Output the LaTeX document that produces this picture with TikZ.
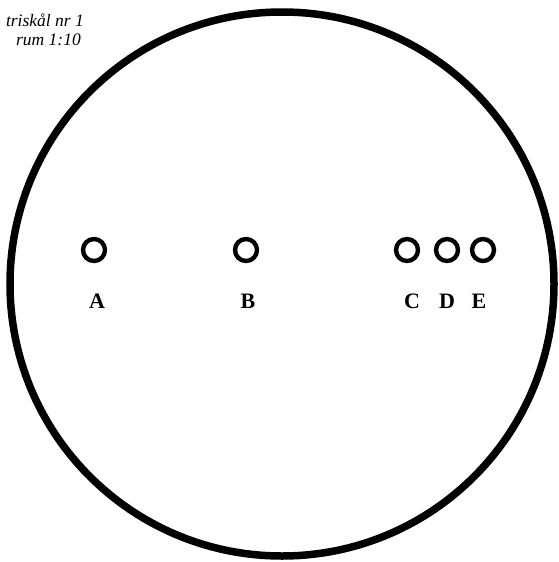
\documentclass[tikz,border=0pt]{standalone}
\usepackage{fontspec}
\setmainfont{Liberation Serif}
\begin{document}
\begin{tikzpicture}[x=1pt,y=-1pt,
  hole/.style={circle,draw=black,line width=4.4pt,minimum size=20pt,inner sep=0pt},
  lbl/.style={font=\fontsize{22}{22}\selectfont\bfseries,inner sep=0pt},
  note/.style={font=\fontsize{17.5}{17.5}\selectfont\itshape,inner sep=0pt,anchor=east}]
\useasboundingbox (0,0) rectangle (558,562);
\node[circle,draw=black,line width=7.5pt,minimum size=544pt,inner sep=0pt] (plate) at (282,284) {};
\node[hole,minimum height=22pt] (hA) at (94,250) {};
\node[hole,minimum height=22pt] (hB) at (246,250) {};
\node[hole,minimum height=22pt] (hC) at (407,250) {};
\node[hole,minimum height=22pt] (hD) at (447,250) {};
\node[hole,minimum height=22pt] (hE) at (483,250) {};
\node[lbl] (lA) at (97,301) {A};
\node[lbl] (lB) at (248,301) {B};
\node[lbl] (lC) at (412,301) {C};
\node[lbl] (lD) at (447,301) {D};
\node[lbl] (lE) at (479,301) {E};
\node[note] (n1) at (84,20) {triskål nr 1};
\node[note] (n2) at (81,40) {rum 1:10};
\end{tikzpicture}
\end{document}
